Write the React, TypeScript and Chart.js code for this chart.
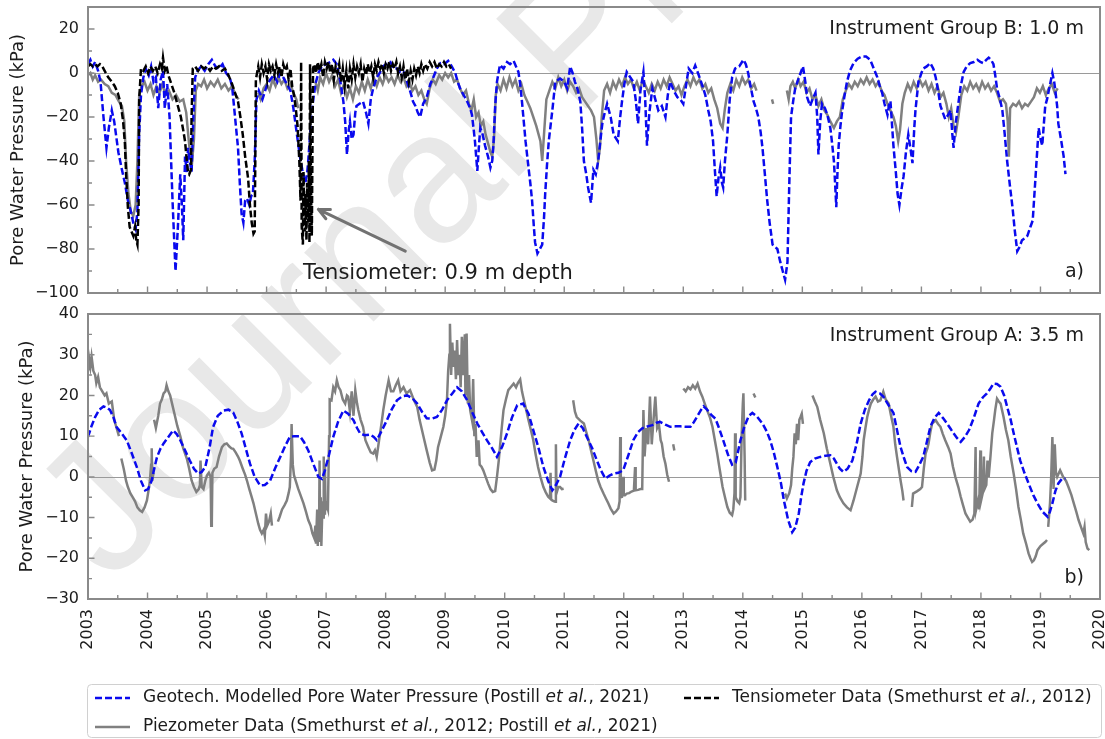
import { useEffect, useRef } from "react";
import { Chart, registerables } from "chart.js";

Chart.register(...registerables);

// ---------------------------------------------------------------------------
// Data: [decimal year, pore water pressure in kPa]; null marks a gap in a record
// ---------------------------------------------------------------------------
type Sample = readonly [number, number] | null;

const YEAR_MIN = 2003;
const YEAR_MAX = 2020;
const yearTicks = [2003, 2004, 2005, 2006, 2007, 2008, 2009, 2010, 2011, 2012, 2013, 2014, 2015, 2016, 2017, 2018, 2019, 2020];
const topYTicks = [-100, -80, -60, -40, -20, 0, 20];
const topYMinor = [-90, -70, -50, -30, -10, 10];
const bottomYTicks = [-30, -20, -10, 0, 10, 20, 30, 40];
const bottomYMinor = [-25, -15, -5, 5, 15, 25, 35];

// Instrument group B (1.0 m) — modelled pore water pressure
const modelB: Sample[] = [
  [2003.0, 4], [2003.04, 6], [2003.08, 3], [2003.12, 5], [2003.17, 1], [2003.21, -4], [2003.26, -20], [2003.31, -34],
  [2003.35, -25], [2003.4, -17], [2003.44, -22], [2003.51, -36], [2003.57, -44], [2003.62, -50], [2003.67, -58], [2003.71, -62],
  [2003.76, -68], [2003.8, -71], [2003.83, -63], [2003.86, -28], [2003.89, -10], [2003.93, -2], [2003.97, 2], [2004.02, -1],
  [2004.06, 3], [2004.1, -4], [2004.14, -2], [2004.18, -16], [2004.22, -3], [2004.26, 1], [2004.29, -16], [2004.33, -5],
  [2004.37, -20], [2004.42, -58], [2004.47, -90], [2004.51, -70], [2004.55, -46], [2004.58, -62], [2004.6, -76], [2004.63, -38],
  [2004.66, -45], [2004.68, -34], [2004.71, -40], [2004.74, -45], [2004.77, -20], [2004.8, -2], [2004.84, 1], [2004.9, 3],
  [2004.96, 1], [2005.02, 4], [2005.08, 6], [2005.14, 3], [2005.2, 2], [2005.26, 4], [2005.32, 0], [2005.38, -2],
  [2005.42, -6], [2005.47, -20], [2005.52, -34], [2005.55, -50], [2005.58, -64], [2005.61, -68], [2005.64, -58], [2005.67, -57],
  [2005.71, -60], [2005.74, -56], [2005.77, -55], [2005.8, -40], [2005.83, -12], [2005.87, -8], [2005.93, -12], [2006.0, -6],
  [2006.06, -3], [2006.12, -1], [2006.18, -4], [2006.23, 0], [2006.28, -2], [2006.34, -5], [2006.4, -8], [2006.45, -16],
  [2006.51, -28], [2006.56, -38], [2006.6, -44], [2006.65, -50], [2006.68, -46], [2006.7, -40], [2006.74, -24], [2006.78, -13],
  [2006.82, -5], [2006.87, 0], [2006.93, 3], [2007.0, 4], [2007.07, 5], [2007.12, 6], [2007.18, 4], [2007.24, -4],
  [2007.29, -13], [2007.32, -22], [2007.35, -37], [2007.38, -26], [2007.4, -22], [2007.43, -30], [2007.46, -28], [2007.49, -18],
  [2007.51, -15], [2007.56, -14], [2007.62, -13], [2007.67, -18], [2007.71, -23], [2007.75, -12], [2007.79, -7], [2007.85, -2],
  [2007.9, 0], [2007.96, 3], [2008.03, 4.5], [2008.08, 5], [2008.13, 2], [2008.19, 2], [2008.25, 0], [2008.3, 0.5],
  [2008.36, -4], [2008.42, -9], [2008.46, -13], [2008.5, -15], [2008.54, -18], [2008.58, -20], [2008.63, -14], [2008.69, -11],
  [2008.75, -5], [2008.8, -2], [2008.86, 2], [2008.92, 4.5], [2008.98, 4], [2009.05, 5.5], [2009.11, 3], [2009.17, 0],
  [2009.21, -4], [2009.25, -7], [2009.31, -10], [2009.37, -13], [2009.42, -16], [2009.45, -19], [2009.48, -26], [2009.5, -31],
  [2009.54, -44.5], [2009.57, -32], [2009.59, -25], [2009.63, -28], [2009.67, -33], [2009.72, -38], [2009.76, -43], [2009.79, -40],
  [2009.81, -33], [2009.84, -15], [2009.87, -4], [2009.92, 3.7], [2009.98, 2], [2010.04, 5], [2010.09, 4], [2010.15, 5.5],
  [2010.19, 3], [2010.23, 0.5], [2010.26, -5], [2010.29, -13], [2010.32, -22], [2010.35, -31], [2010.4, -43], [2010.43, -50],
  [2010.46, -58], [2010.49, -70], [2010.51, -77], [2010.55, -82], [2010.59, -80], [2010.63, -78], [2010.66, -66], [2010.68, -55],
  [2010.71, -42], [2010.74, -31], [2010.77, -24], [2010.8, -17], [2010.85, -4], [2010.93, -2.5], [2011.0, -4], [2011.05, -7],
  [2011.1, 3], [2011.14, 0], [2011.18, -4], [2011.23, -8], [2011.27, -13], [2011.3, -25], [2011.33, -40], [2011.37, -46],
  [2011.4, -52], [2011.45, -59], [2011.49, -44], [2011.53, -46], [2011.57, -40], [2011.61, -30], [2011.64, -23], [2011.68, -18],
  [2011.72, -14], [2011.78, -20], [2011.83, -28], [2011.9, -31], [2011.94, -20], [2011.97, -13], [2012.01, -5], [2012.05, 0.5],
  [2012.11, -2], [2012.16, -4], [2012.2, -12], [2012.24, -23], [2012.28, -8], [2012.33, 0.5], [2012.36, -12], [2012.39, -33],
  [2012.43, -18], [2012.48, -7], [2012.53, -12], [2012.58, -17], [2012.64, -15], [2012.7, -20], [2012.74, -10], [2012.78, -4],
  [2012.84, -8], [2012.9, -11], [2012.95, -12], [2013.0, -14], [2013.05, -5], [2013.09, 2], [2013.15, 0], [2013.2, 3.4],
  [2013.26, -1], [2013.32, -5.7], [2013.37, -10], [2013.42, -17], [2013.46, -22], [2013.5, -31], [2013.53, -44], [2013.56, -56],
  [2013.59, -48], [2013.62, -43], [2013.65, -50], [2013.67, -52], [2013.7, -40], [2013.74, -28], [2013.78, -12], [2013.82, -2],
  [2013.87, 2], [2013.94, 3], [2014.01, 6], [2014.05, 4], [2014.09, 0], [2014.13, -6], [2014.18, -12.8], [2014.22, -16],
  [2014.26, -20], [2014.3, -27], [2014.33, -34], [2014.37, -46], [2014.41, -58], [2014.45, -68], [2014.5, -78], [2014.54, -79],
  [2014.58, -80], [2014.63, -86], [2014.67, -90], [2014.71, -94], [2014.75, -86], [2014.78, -51], [2014.81, -20], [2014.85, -12],
  [2014.88, -7], [2014.93, -3], [2014.97, 0], [2015.01, 3], [2015.05, -4], [2015.08, -11], [2015.13, -15], [2015.17, -12],
  [2015.22, -9], [2015.25, -20], [2015.27, -37], [2015.3, -22], [2015.33, -14], [2015.38, -16], [2015.42, -19], [2015.47, -25],
  [2015.5, -32], [2015.53, -40], [2015.55, -50], [2015.57, -61], [2015.59, -45], [2015.61, -33], [2015.64, -24], [2015.67, -17],
  [2015.71, -10], [2015.75, -4], [2015.8, 1], [2015.86, 4.5], [2015.93, 6.5], [2016.0, 7.5], [2016.07, 7.5], [2016.14, 6],
  [2016.2, 2], [2016.26, -2], [2016.3, -6], [2016.34, -9], [2016.38, -14], [2016.43, -19], [2016.46, -14], [2016.48, -12.8],
  [2016.51, -25], [2016.53, -33], [2016.57, -45], [2016.6, -55], [2016.63, -60], [2016.67, -52], [2016.7, -47], [2016.74, -36],
  [2016.78, -28], [2016.82, -35], [2016.85, -41], [2016.88, -25], [2016.9, -17], [2016.95, -4], [2017.0, 0], [2017.03, 2],
  [2017.09, 3], [2017.15, 4.5], [2017.2, 2], [2017.24, -2], [2017.28, -8], [2017.32, -15], [2017.36, -18], [2017.4, -21],
  [2017.45, -19], [2017.49, -17], [2017.52, -28], [2017.54, -34], [2017.58, -22], [2017.62, -14], [2017.66, -6], [2017.71, 0.5],
  [2017.76, 3], [2017.82, 4.5], [2017.88, 5], [2017.94, 6], [2017.99, 5], [2018.04, 4.5], [2018.09, 6], [2018.13, 7],
  [2018.17, 6], [2018.21, 4], [2018.24, -1], [2018.27, -7], [2018.32, -12], [2018.36, -17], [2018.4, -28], [2018.44, -40],
  [2018.49, -52], [2018.53, -61], [2018.57, -72], [2018.61, -81], [2018.65, -79], [2018.69, -76], [2018.74, -75], [2018.78, -74],
  [2018.83, -70], [2018.87, -67], [2018.92, -46], [2018.97, -25], [2019.0, -30], [2019.03, -33], [2019.06, -22], [2019.08, -15],
  [2019.11, -12], [2019.14, -8], [2019.17, -4], [2019.2, 0], [2019.23, -4], [2019.25, -8], [2019.28, -15], [2019.3, -23],
  [2019.35, -31], [2019.39, -38], [2019.42, -46],
];

// Instrument group B (1.0 m) — piezometer record
const piezoB: Sample[] = [
  [2003.0, -1], [2003.04, 0], [2003.08, -3], [2003.12, -1], [2003.17, -4], [2003.22, -3], [2003.28, -5], [2003.34, -6],
  [2003.4, -9], [2003.46, -10], [2003.52, -13], [2003.57, -15], [2003.61, -22], [2003.64, -40], [2003.68, -55], [2003.72, -63],
  [2003.76, -65], [2003.8, -60], [2003.83, -40], [2003.86, -10], [2003.9, -6], [2003.95, -4], [2004.0, -8], [2004.05, -5],
  [2004.1, -10], [2004.15, -6], [2004.2, -9], [2004.25, -5], [2004.3, -10], [2004.36, -8], [2004.42, -12], [2004.48, -10],
  [2004.54, -13], [2004.6, -12], [2004.65, -18], [2004.69, -30], [2004.72, -38], [2004.75, -40], [2004.78, -30], [2004.81, -8],
  [2004.85, -5], [2004.9, -6], [2004.95, -3], [2005.0, -7], [2005.06, -4], [2005.12, -6], [2005.18, -3], [2005.24, -7],
  [2005.3, -5], [2005.36, -8], [2005.42, -6], [2005.48, -10], [2005.53, -12], null,
  [2005.86, -9], [2005.9, -12], [2005.95, -7], [2006.0, -5], [2006.05, -8], [2006.1, -3], [2006.15, -6], [2006.2, -2],
  [2006.25, -5], [2006.3, -3], [2006.35, -7], [2006.4, -5], [2006.45, -9], [2006.5, -12], [2006.53, -16], null,
  [2006.82, -4], [2006.86, -8], [2006.9, -2], [2006.95, -5], [2007.0, 0], [2007.05, -4], [2007.1, -1], [2007.15, -6],
  [2007.2, -3], [2007.25, -9], [2007.3, -5], [2007.35, -11], [2007.4, -7], [2007.45, -12], [2007.5, -6], [2007.55, -9],
  [2007.6, -4], [2007.65, -8], [2007.7, -3], [2007.75, -7], [2007.8, -2], [2007.85, -6], [2007.9, -2], [2007.95, -5],
  [2008.0, -1], [2008.05, -4], [2008.1, -2], [2008.15, -5], [2008.2, -1], [2008.25, -4], [2008.3, -2], [2008.35, -6],
  [2008.4, -4], [2008.45, -8], [2008.5, -6], [2008.55, -10], [2008.6, -8], [2008.65, -12], [2008.69, -14], [2008.74, -7],
  [2008.79, -3], [2008.84, -5], [2008.9, -1], [2008.95, -3], [2009.0, 0], [2009.05, -2], [2009.1, 0], [2009.15, -4],
  [2009.2, -3], [2009.25, -7], [2009.3, -10], [2009.35, -8], [2009.4, -14], [2009.44, -17], [2009.48, -12], [2009.52, -20],
  [2009.56, -18], [2009.6, -24], [2009.64, -22], [2009.68, -28], [2009.72, -32], [2009.76, -36], [2009.79, -38], [2009.82, -30],
  [2009.85, -10], [2009.88, -5], [2009.93, -8], [2009.98, -3], [2010.03, -7], [2010.08, -2], [2010.13, -6], [2010.18, -3],
  [2010.23, -8], [2010.28, -5], [2010.33, -10], [2010.38, -13], [2010.43, -16], [2010.48, -20], [2010.53, -24], [2010.57, -28],
  [2010.6, -31], [2010.63, -40], [2010.66, -28], [2010.7, -12], [2010.75, -8], [2010.8, -4], [2010.85, -7], [2010.9, -2],
  [2010.95, -6], [2011.0, -3], [2011.05, -8], [2011.1, -4], [2011.15, -6], [2011.2, -9], [2011.25, -7], [2011.3, -11],
  [2011.35, -13], [2011.4, -15], [2011.45, -17], [2011.5, -20], [2011.54, -30], [2011.57, -40], [2011.6, -34], [2011.63, -20],
  [2011.67, -8], [2011.72, -5], [2011.77, -9], [2011.82, -4], [2011.87, -7], [2011.92, -3], [2011.97, -6], [2012.02, -2],
  [2012.07, -5], [2012.12, -3], [2012.17, -7], [2012.22, -4], [2012.27, -8], [2012.32, -3], [2012.37, -6], [2012.42, -9],
  [2012.47, -5], [2012.52, -8], [2012.57, -4], [2012.62, -7], [2012.67, -3], [2012.72, -6], [2012.77, -2], [2012.82, -5],
  [2012.87, -8], [2012.92, -6], [2012.97, -10], [2013.02, -6], [2013.07, -3], [2013.12, -6], [2013.17, -2], [2013.22, -5],
  [2013.27, -3], [2013.32, -7], [2013.37, -5], [2013.42, -9], [2013.47, -7], [2013.52, -12], [2013.57, -16], [2013.62, -23],
  [2013.66, -25], [2013.7, -16], [2013.74, -9], [2013.79, -5], [2013.84, -8], [2013.89, -3], [2013.94, -6], [2013.99, -2],
  [2014.04, -5], [2014.09, -3], [2014.14, -7], [2014.19, -5], [2014.23, -8], null,
  [2014.49, -12], [2014.51, -14], null,
  [2014.74, -8], [2014.77, -12], [2014.8, -6], [2014.84, -4], [2014.88, -7], [2014.93, -3], [2014.97, -6], [2015.02, -4],
  [2015.07, -9], [2015.12, -7], [2015.17, -12], [2015.22, -10], [2015.27, -15], [2015.32, -12], [2015.37, -17], [2015.42, -19],
  [2015.47, -22], [2015.53, -25], [2015.58, -22], [2015.63, -20], [2015.68, -12], [2015.73, -8], [2015.78, -5], [2015.83, -7],
  [2015.88, -4], [2015.93, -6], [2015.98, -3], [2016.03, -5], [2016.08, -2], [2016.13, -5], [2016.18, -3], [2016.23, -6],
  [2016.28, -4], [2016.33, -8], [2016.38, -10], [2016.43, -14], [2016.48, -17], [2016.53, -20], [2016.57, -24], [2016.61, -31],
  [2016.64, -26], [2016.68, -14], [2016.72, -9], [2016.77, -5], [2016.82, -8], [2016.87, -4], [2016.92, -7], [2016.97, -3],
  [2017.02, -6], [2017.07, -4], [2017.12, -8], [2017.17, -5], [2017.22, -9], [2017.27, -6], [2017.32, -11], [2017.37, -9],
  [2017.42, -14], [2017.46, -20], [2017.5, -16], [2017.54, -24], [2017.58, -27], [2017.62, -20], [2017.67, -10], [2017.72, -6],
  [2017.77, -8], [2017.82, -4], [2017.87, -7], [2017.92, -5], [2017.97, -8], [2018.02, -4], [2018.07, -7], [2018.12, -5],
  [2018.17, -8], [2018.22, -6], [2018.27, -9], [2018.32, -13], [2018.37, -12], [2018.42, -14], [2018.45, -22], [2018.47, -38],
  [2018.49, -16], [2018.54, -14], [2018.59, -15], [2018.64, -13], [2018.69, -16], [2018.74, -14], [2018.79, -15], [2018.84, -13],
  [2018.89, -11], [2018.94, -7], [2018.99, -9], [2019.04, -6], [2019.09, -10], [2019.14, -7], [2019.19, -5], [2019.24, -9],
  [2019.29, -7],
];

// Tensiometer record, 0.9 m depth
const tensiometer: Sample[] = [
  [2003.0, 3], [2003.04, 4], [2003.08, 3], [2003.12, 4], [2003.16, 3], [2003.2, 4], [2003.24, 3], [2003.28, 1],
  [2003.34, -2], [2003.4, -4], [2003.45, -6], [2003.5, -9], [2003.55, -14], [2003.59, -22], [2003.62, -32], [2003.64, -46],
  [2003.67, -61], [2003.7, -70], [2003.73, -72], [2003.76, -74], [2003.79, -70], [2003.81, -76], [2003.83, -78], [2003.85, -60],
  [2003.86, -12], [2003.89, 2], [2003.93, 1], [2003.97, 3], [2004.01, 0], [2004.05, 3], [2004.09, 1], [2004.13, 3],
  [2004.17, 0], [2004.21, 4], [2004.24, 2], [2004.26, 7], [2004.29, 1], [2004.32, 3], [2004.35, -1], [2004.4, -5],
  [2004.45, -9], [2004.51, -15], [2004.56, -20], [2004.6, -26], [2004.63, -31], [2004.66, -40], [2004.68, -45], [2004.7, -46],
  [2004.73, -44], [2004.74, -20], [2004.76, 2], [2004.8, 3], [2004.85, 1], [2004.9, 3], [2004.95, 2], [2005.0, 3],
  [2005.05, 1], [2005.1, 3], [2005.15, 2], [2005.2, 3], [2005.25, 1], [2005.3, 2], [2005.36, -1], [2005.42, -5],
  [2005.47, -9], [2005.52, -13], [2005.56, -20], [2005.6, -28], [2005.64, -38], [2005.69, -48], [2005.72, -60], [2005.75, -68],
  [2005.78, -73], [2005.8, -72], [2005.81, -40], [2005.82, -3], [2005.86, 3], [2005.89, -2], [2005.92, 4], [2005.95, 0],
  [2005.98, 3], [2006.01, -3], [2006.04, 4], [2006.07, 1], [2006.1, 3], [2006.13, -1], [2006.16, 4], [2006.19, 0],
  [2006.22, 3], [2006.25, -2], [2006.28, 4], [2006.31, 1], [2006.34, 3], [2006.37, -3], [2006.4, 2], [2006.43, -6],
  [2006.46, -10], [2006.49, -16], [2006.52, -24], [2006.55, -40], [2006.57, -58], [2006.58, 5], [2006.59, -70], [2006.61, -78],
  [2006.62, -45], [2006.64, -72], [2006.65, -55], [2006.67, -76], [2006.68, -50], [2006.7, -68], [2006.71, -40], [2006.72, -77],
  [2006.73, 4], [2006.75, -60], [2006.76, -74], [2006.78, 2], [2006.8, 4], [2006.83, 0], [2006.86, 5], [2006.89, 1],
  [2006.92, 4], [2006.95, -2], [2006.98, 5], [2007.01, 2], [2007.04, 5], [2007.07, 0], [2007.1, 4], [2007.13, -3],
  [2007.16, 3], [2007.19, 0], [2007.22, 4], [2007.25, -4], [2007.28, 2], [2007.31, -6], [2007.34, 1], [2007.37, -7],
  [2007.4, 2], [2007.43, -3], [2007.46, 4], [2007.49, -2], [2007.52, 3], [2007.55, 0], [2007.58, 4], [2007.61, -4],
  [2007.64, 2], [2007.67, -1], [2007.7, 4], [2007.73, 0], [2007.76, 3], [2007.79, -2], [2007.82, 4], [2007.85, 1],
  [2007.88, 5], [2007.91, 2], [2007.94, 4], [2007.97, 0], [2008.0, 4], [2008.03, 2], [2008.06, 5], [2008.09, 1],
  [2008.12, 4], [2008.15, 2], [2008.18, 5], [2008.21, 0], [2008.24, 3], [2008.27, -2], [2008.3, 3], [2008.33, -3],
  [2008.36, 2], [2008.39, -4], [2008.42, 1], [2008.45, -3], [2008.48, 2], [2008.51, -1], [2008.54, 3], [2008.57, 0],
  [2008.6, 4], [2008.63, 1], [2008.66, 4], [2008.7, 2], [2008.74, 5], [2008.78, 3], [2008.82, 5], [2008.86, 2],
  [2008.9, 4], [2008.94, 3], [2008.98, 5], [2009.02, 3], [2009.06, 4], [2009.1, 2],
];

// Instrument group A (3.5 m) — modelled pore water pressure
const modelA: Sample[] = [
  [2003.0, 9.8], [2003.06, 12.5], [2003.12, 14.7], [2003.19, 16.5], [2003.26, 17.3], [2003.32, 17], [2003.37, 16.4], [2003.43, 14.5],
  [2003.48, 12.2], [2003.55, 11], [2003.6, 10], [2003.65, 9], [2003.73, 6], [2003.82, 2.4], [2003.89, -1], [2003.96, -3.3],
  [2004.01, -3], [2004.07, -0.9], [2004.12, 2.5], [2004.16, 4.9], [2004.22, 7], [2004.27, 8.2], [2004.35, 9.8], [2004.43, 11.4],
  [2004.49, 10.5], [2004.55, 9], [2004.63, 6.5], [2004.71, 4], [2004.78, 2], [2004.85, 0.8], [2004.91, 1.2], [2004.97, 2.4],
  [2005.04, 7], [2005.1, 12.2], [2005.18, 15], [2005.28, 16.3], [2005.36, 16.5], [2005.44, 15.8], [2005.51, 13.5], [2005.58, 10.7],
  [2005.65, 7], [2005.72, 3.3], [2005.8, 0], [2005.89, -2.1], [2005.97, -2], [2006.06, -0.9], [2006.14, 2], [2006.23, 4.9],
  [2006.31, 7.5], [2006.39, 9.8], [2006.47, 10], [2006.56, 10], [2006.63, 8.5], [2006.7, 6.5], [2006.79, 3], [2006.87, 0],
  [2006.93, -0.5], [2006.98, 1.6], [2007.05, 5.5], [2007.12, 9.8], [2007.2, 13.5], [2007.29, 16.3], [2007.37, 15.5], [2007.46, 13.9],
  [2007.52, 12], [2007.57, 10.7], [2007.65, 10.2], [2007.74, 10.4], [2007.8, 9.8], [2007.85, 9], [2007.94, 11.5], [2008.02, 13.9],
  [2008.1, 16.5], [2008.19, 18.8], [2008.28, 19.8], [2008.36, 20], [2008.45, 19.3], [2008.53, 18], [2008.61, 16], [2008.69, 14.4],
  [2008.78, 14.3], [2008.86, 14.7], [2008.95, 16.5], [2009.03, 18.8], [2009.12, 20.5], [2009.2, 22], [2009.28, 21], [2009.37, 18.8],
  [2009.45, 16], [2009.54, 13.1], [2009.62, 11], [2009.7, 9], [2009.79, 7], [2009.87, 4.9], [2009.96, 7.5], [2010.04, 10.7],
  [2010.12, 14.5], [2010.21, 17.6], [2010.31, 18], [2010.4, 15.5], [2010.48, 11.5], [2010.57, 7], [2010.65, 2.4], [2010.73, -1],
  [2010.8, -3.3], [2010.86, -2], [2010.93, 0], [2011.01, 4.5], [2011.1, 9], [2011.17, 11.5], [2011.24, 13.1], [2011.31, 12],
  [2011.38, 9.8], [2011.47, 7], [2011.55, 4], [2011.62, 1.5], [2011.69, -0.4], [2011.76, 0.3], [2011.83, 0.8], [2011.91, 1],
  [2011.99, 1.6], [2012.07, 5], [2012.16, 9], [2012.24, 11], [2012.31, 11.9], [2012.4, 12.4], [2012.48, 12.7], [2012.55, 13.3],
  [2012.61, 13.5], [2012.7, 12.8], [2012.78, 12.3], [2012.87, 12.4], [2012.95, 12.4], [2013.04, 12.3], [2013.12, 12.3], [2013.18, 13.5],
  [2013.24, 15], [2013.3, 16.5], [2013.34, 17.3], [2013.4, 16.5], [2013.47, 15.2], [2013.54, 14.3], [2013.6, 12], [2013.67, 9],
  [2013.75, 5.5], [2013.82, 3], [2013.88, 3.5], [2013.96, 9], [2014.03, 12.5], [2014.1, 15], [2014.16, 15.7], [2014.24, 14.8],
  [2014.33, 13.1], [2014.4, 11.2], [2014.46, 9], [2014.52, 6], [2014.58, 2.4], [2014.64, -1.5], [2014.69, -5.8], [2014.76, -10.5],
  [2014.83, -13.6], [2014.88, -12.5], [2014.94, -9], [2014.98, -5], [2015.02, -1.6], [2015.07, 1.5], [2015.13, 3.6], [2015.21, 4.5],
  [2015.3, 4.9], [2015.39, 5.2], [2015.47, 5.3], [2015.53, 4.5], [2015.58, 3.2], [2015.63, 2], [2015.69, 1.2], [2015.76, 2],
  [2015.84, 4], [2015.91, 8], [2015.98, 13.1], [2016.05, 16.5], [2016.12, 18.8], [2016.18, 20.3], [2016.23, 20.9], [2016.3, 20.5],
  [2016.36, 19.7], [2016.44, 17.8], [2016.53, 15.7], [2016.59, 11.5], [2016.65, 7.3], [2016.71, 4.5], [2016.76, 2.4], [2016.83, 1.4],
  [2016.9, 1.2], [2016.96, 2.8], [2017.03, 4.9], [2017.09, 8.5], [2017.15, 12.3], [2017.22, 14.5], [2017.29, 15.7], [2017.36, 14.5],
  [2017.43, 13.1], [2017.49, 11.8], [2017.54, 10.7], [2017.6, 9.5], [2017.66, 8.6], [2017.73, 9.8], [2017.8, 11.5], [2017.88, 14.5],
  [2017.96, 18], [2018.03, 19.5], [2018.1, 20.5], [2018.16, 21.7], [2018.21, 22.9], [2018.27, 22.8], [2018.33, 22.1], [2018.39, 20],
  [2018.44, 17.2], [2018.5, 14], [2018.55, 10.7], [2018.61, 7], [2018.66, 4], [2018.73, 1], [2018.8, -1.6], [2018.88, -4.5],
  [2018.95, -6.5], [2019.03, -8.5], [2019.12, -9.8], [2019.16, -8.5], [2019.2, -6.5], [2019.25, -3.5], [2019.3, -1.6], [2019.36, -0.5],
  [2019.42, -0.4],
];

// Instrument group A (3.5 m) — piezometer record
const piezoA: Sample[] = [
  [2003.0, 26], [2003.02, 29], [2003.04, 27], [2003.06, 29.5], [2003.09, 26], [2003.12, 25], [2003.14, 23], [2003.17, 24.5],
  [2003.2, 22], [2003.24, 21], [2003.28, 20], [2003.31, 20.5], [2003.35, 18], [2003.4, 18.5], [2003.44, 14], [2003.48, 12],
  [2003.52, 10], null,
  [2003.56, 4.5], [2003.6, 2], [2003.64, -1], [2003.67, -2.5], [2003.71, -4], [2003.75, -5], [2003.79, -6], [2003.83, -7.5],
  [2003.87, -8.2], [2003.91, -8.6], [2003.95, -7.5], [2003.99, -5.8], [2004.02, -3], [2004.04, -0.9], [2004.06, 3], [2004.07, 7],
  [2004.08, -1], [2004.1, 1], null,
  [2004.11, 14], [2004.14, 12], [2004.18, 15], [2004.21, 18], [2004.24, 19], [2004.27, 20.5], [2004.3, 21], [2004.32, 22.5],
  [2004.35, 21], [2004.38, 20], [2004.42, 17.5], [2004.46, 15], [2004.5, 12.5], [2004.55, 10], [2004.6, 7], [2004.66, 4.5],
  [2004.7, 2], [2004.74, -0.9], [2004.78, -2.5], [2004.82, -3.7], [2004.86, -3], [2004.88, -2], [2004.89, 4], [2004.91, -2.5],
  [2004.94, -3], [2004.97, -1], [2005.0, 0.4], [2005.03, 1], [2005.06, 0], [2005.07, -12], [2005.08, -11], [2005.09, 1],
  [2005.12, 2], [2005.16, 2.4], [2005.2, 5], [2005.25, 7.3], [2005.29, 8], [2005.33, 8.2], [2005.37, 7.5], [2005.41, 7],
  [2005.44, 6.9], [2005.48, 6], [2005.52, 5], [2005.55, 4], [2005.6, 2], [2005.64, 0.5], [2005.67, -0.9], [2005.71, -3],
  [2005.75, -5], [2005.78, -6.5], [2005.82, -9], [2005.86, -11.5], [2005.89, -13], [2005.92, -13.9], [2005.95, -13], [2005.97, -14.5],
  [2005.99, -9], [2006.01, -12], [2006.04, -11], [2006.07, -9], [2006.09, -12], null,
  [2006.19, -11], [2006.22, -9.8], [2006.26, -8], [2006.3, -7], [2006.34, -5.8], [2006.37, -4], [2006.39, -2.5], [2006.41, 5],
  [2006.42, 13], [2006.44, 3], [2006.46, 0.4], [2006.5, -1.5], [2006.53, -2.9], [2006.57, -4.5], [2006.62, -6.5], [2006.66, -8.5],
  [2006.7, -10.6], [2006.74, -12], [2006.77, -13.9], [2006.8, -15], [2006.82, -12], [2006.83, -16.4], [2006.85, -8], [2006.86, -17],
  [2006.87, -10], [2006.88, -16], [2006.89, 4], [2006.9, -15], [2006.91, -5], [2006.92, -17], [2006.94, -6], [2006.95, -10],
  [2006.96, 5], [2006.97, -9], [2006.98, 3.2], [2006.99, -8], [2007.01, -7], [2007.03, -8], [2007.05, 10], [2007.06, 19],
  [2007.09, 18.8], [2007.12, 22], [2007.15, 21], [2007.18, 23.7], [2007.21, 22], [2007.24, 21.3], [2007.28, 19], [2007.32, 18],
  [2007.35, 20], [2007.37, 19.7], [2007.4, 16], [2007.43, 21], [2007.46, 15], [2007.49, 21.3], [2007.52, 18], [2007.54, 16.4],
  [2007.58, 14], [2007.62, 12.3], [2007.66, 9], [2007.71, 7.3], [2007.75, 6], [2007.79, 5.7], [2007.82, 6.5], [2007.85, 4.9],
  [2007.88, 8], [2007.92, 12], [2007.96, 16.4], [2008.0, 20], [2008.05, 23.7], [2008.09, 21], [2008.13, 21], [2008.17, 22.5],
  [2008.21, 23.7], [2008.25, 21], [2008.3, 22], [2008.35, 20.5], [2008.41, 21.3], [2008.47, 19], [2008.53, 17.2], [2008.57, 14],
  [2008.61, 11.5], [2008.65, 9], [2008.69, 6.5], [2008.74, 3.5], [2008.78, 1.6], [2008.82, 1.8], [2008.85, 4], [2008.88, 7.3],
  [2008.92, 9.5], [2008.97, 12.3], [2009.0, 15], [2009.03, 18.8], [2009.05, 26], [2009.07, 30], [2009.08, 37.6], [2009.1, 25],
  [2009.12, 33], [2009.14, 27], [2009.16, 31], [2009.18, 24], [2009.2, 33.6], [2009.22, 25], [2009.24, 30], [2009.26, 22],
  [2009.28, 34.4], [2009.3, 25], [2009.33, 35], [2009.34, 20], [2009.36, 35.2], [2009.38, 18], [2009.4, 25], [2009.42, 16.4],
  [2009.45, 14], [2009.47, 24], [2009.49, 10], [2009.51, 13], [2009.53, 4.9], [2009.56, 9], [2009.58, 3], [2009.61, 2.5],
  [2009.64, 1.6], [2009.68, 0], [2009.72, -1.6], [2009.76, -3], [2009.8, -3.7], [2009.84, -3.5], [2009.87, 0], [2009.9, 4],
  [2009.92, 7.3], [2009.95, 12], [2009.98, 16.4], [2010.02, 19], [2010.06, 21.3], [2010.1, 22], [2010.15, 22.9], [2010.19, 22],
  [2010.22, 23], [2010.26, 23.9], [2010.29, 21], [2010.31, 19.7], [2010.36, 16.5], [2010.4, 13.9], [2010.44, 11.5], [2010.48, 9],
  [2010.52, 5.5], [2010.56, 2.4], [2010.6, 0], [2010.65, -2.5], [2010.69, -3.8], [2010.73, -4.9], [2010.76, -5.3], [2010.77, 1],
  [2010.78, -5.5], [2010.8, -5.8], [2010.83, -6], [2010.85, -6.1], [2010.86, 8], [2010.87, -4], [2010.9, -2.5], [2010.93, -2.5],
  [2010.96, -3], [2010.99, -2.9], null,
  [2011.15, 18.8], [2011.18, 16], [2011.21, 14.7], [2011.27, 13.8], [2011.33, 13.1], [2011.37, 11], [2011.41, 9], [2011.45, 6.5],
  [2011.49, 4], [2011.53, 1.5], [2011.57, -0.9], [2011.61, -2.5], [2011.66, -4.1], [2011.7, -5.3], [2011.74, -6.5], [2011.78, -7.8],
  [2011.83, -9], [2011.87, -8.5], [2011.91, -7.7], [2011.93, -6], [2011.94, 9.8], [2011.95, -5], [2011.97, -4.9], [2011.99, 0],
  [2012.0, -4.5], [2012.02, -4.5], [2012.05, -4.1], [2012.09, -4], [2012.13, -3.6], [2012.17, -3.4], [2012.19, 2.4], [2012.2, -3.3],
  [2012.24, -3.2], [2012.28, -3], [2012.31, -3], [2012.33, 16.4], [2012.35, 5], [2012.38, 12], [2012.41, 8], [2012.44, 19.7],
  [2012.47, 8], [2012.5, 14], [2012.53, 19.7], [2012.56, 12], [2012.59, 13], [2012.62, 9], [2012.64, 8.2], [2012.67, 5],
  [2012.7, 3.2], [2012.73, 0.5], [2012.76, -1.2], null,
  [2012.83, 8], [2012.85, 6.5], null,
  [2013.0, 21.7], [2013.04, 21], [2013.08, 22], [2013.12, 21.5], [2013.16, 22.5], [2013.2, 21.7], [2013.24, 22.9], [2013.28, 21],
  [2013.32, 19.7], [2013.36, 18], [2013.4, 16.4], [2013.45, 14.5], [2013.49, 12.3], [2013.53, 9], [2013.57, 5.7], [2013.61, 2],
  [2013.66, -2.5], [2013.7, -5], [2013.74, -7.4], [2013.78, -8.8], [2013.82, -9.4], [2013.84, -8], [2013.86, -4], [2013.87, 10.7],
  [2013.88, -5], [2013.91, -6], [2013.94, -6.5], [2013.96, -5], [2013.98, 10], [2014.0, 18], [2014.01, 20.5], [2014.03, 5],
  [2014.04, -5.8], null,
  [2014.18, 20.5], [2014.21, 19.5], null,
  [2014.71, -4.1], [2014.74, -5.3], [2014.78, -4], [2014.81, -2], [2014.83, 2], [2014.85, 4.9], [2014.87, 10.7], [2014.89, 8],
  [2014.91, 13], [2014.93, 9], [2014.95, 14], [2014.97, 14.7], [2014.99, 15.5], [2015.01, 13], null,
  [2015.17, 20], [2015.21, 18.5], [2015.25, 17.2], [2015.3, 14], [2015.36, 10.7], [2015.41, 7], [2015.47, 3.2], [2015.52, 0],
  [2015.58, -3.3], [2015.63, -5], [2015.69, -6.5], [2015.75, -7.5], [2015.81, -8.2], [2015.86, -5.8], [2015.92, -2.5], [2015.98, 0.8],
  [2016.01, 5], [2016.03, 9], [2016.06, 12], [2016.09, 14.7], [2016.12, 16.5], [2016.15, 18], [2016.19, 19], [2016.23, 19.7],
  [2016.27, 18.5], [2016.31, 18.8], [2016.34, 20], [2016.36, 20.9], [2016.4, 19], [2016.45, 18], [2016.49, 15], [2016.53, 12.3],
  [2016.56, 8], [2016.59, 4.9], [2016.62, 2], [2016.65, -0.9], [2016.68, -3.5], [2016.7, -5.8], null,
  [2016.84, -7.4], [2016.86, -4.1], [2016.93, -3.5], [2016.98, -3], [2017.01, -2.5], [2017.04, 2], [2017.07, 5.7], [2017.1, 7],
  [2017.12, 8.2], [2017.15, 11], [2017.18, 13.1], [2017.24, 13.9], [2017.28, 13], [2017.32, 12.3], [2017.36, 10.5], [2017.4, 9],
  [2017.45, 7.3], [2017.49, 5.7], [2017.53, 2.5], [2017.57, 0], [2017.62, -2.5], [2017.66, -4.9], [2017.7, -7], [2017.74, -9],
  [2017.78, -10], [2017.82, -11], [2017.86, -10.5], [2017.89, -9], [2017.91, 7.3], [2017.92, -8], [2017.95, -6], [2017.97, -8],
  [2017.99, 6.5], [2018.0, -6], [2018.03, -4], [2018.05, 5], [2018.06, -3], [2018.09, -2], [2018.11, 4], [2018.13, 0],
  [2018.16, 5], [2018.19, 10.7], [2018.22, 14], [2018.24, 16.4], [2018.27, 19.2], [2018.3, 18.5], [2018.33, 18], [2018.38, 14.7],
  [2018.42, 11.5], [2018.46, 9], [2018.5, 5], [2018.55, 0.8], [2018.59, -3], [2018.63, -7.4], [2018.67, -10.5], [2018.71, -13.9],
  [2018.76, -16.5], [2018.8, -18.8], [2018.83, -20], [2018.86, -20.9], [2018.89, -20.5], [2018.92, -19.5], [2018.95, -18], [2018.97, -17.6],
  [2019.0, -17], [2019.04, -16.5], [2019.08, -16], [2019.11, -15.5], null,
  [2019.13, -12.3], [2019.16, -6.5], [2019.18, 0], [2019.2, 9.8], [2019.22, -3], [2019.24, 8], [2019.26, 1], [2019.28, 0],
  [2019.33, 1.6], [2019.38, 0], [2019.43, -1], [2019.47, -2.5], [2019.52, -4.5], [2019.56, -6.5], [2019.6, -8.5], [2019.64, -10.6],
  [2019.68, -12.3], [2019.72, -13.9], [2019.74, -12.3], [2019.76, -16], [2019.79, -17.6], [2019.82, -18],
];

// Annotation in panel a): text anchor and arrow (data coordinates)
const tensioLabelAt = [2006.61, -93.6];
const tensioArrowFrom = [2008.33, -81];
const tensioArrowTo = [2006.87, -62];

// ---------------------------------------------------------------------------
// Styling
// ---------------------------------------------------------------------------
const FONT = '"DejaVu Sans", "Noto Sans", sans-serif';
const TEXT = "#1c1c1c";
const FRAME = "#8a8a8a";
const BLUE = "#0a0aee";
const GREY = "#808080";
const BLACK = "#000000";
const DASH = [7, 3];
const LINE_W = 2.5;
const W = 1105;
const TOP_H = 300;
const BOTTOM_TOP = 300;
const BOTTOM_H = 439;

function toPoints(samples: Sample[]) {
  const out: { x: number; y: number | null }[] = [];
  let lastX = YEAR_MIN;
  for (const s of samples) {
    if (s === null) {
      out.push({ x: lastX + 0.001, y: null });
    } else {
      out.push({ x: s[0], y: s[1] });
      lastX = s[0];
    }
  }
  return out;
}

const fmtY = (v: number) => (v < 0 ? "\u2212" + Math.abs(v) : String(v));

function lineSet(label: string, samples: Sample[], color: string, dashed: boolean) {
  return {
    label,
    data: toPoints(samples),
    borderColor: color,
    backgroundColor: color,
    borderWidth: LINE_W,
    borderDash: dashed ? DASH : [],
    pointRadius: 0,
    pointHoverRadius: 0,
    fill: false,
    tension: 0,
    spanGaps: false,
  };
}

type PanelOpts = {
  yMajor: number[];
  yMinor: number[];
  titleX: number;
  cornerTop: string;
  cornerBottom: string;
  annotate?: boolean;
  legend?: boolean;
};

function panelPlugin(o: PanelOpts) {
  return {
    id: "panelDecor",
    beforeDatasetsDraw(chart: any) {
      const { ctx, chartArea: a, scales } = chart;
      const y0 = Math.round(scales.y.getPixelForValue(0)) + 0.5;
      ctx.save();
      ctx.strokeStyle = "#9a9a9a";
      ctx.lineWidth = 1;
      ctx.beginPath();
      ctx.moveTo(a.left, y0);
      ctx.lineTo(a.right, y0);
      ctx.stroke();
      ctx.restore();
    },
    afterDatasetsDraw(chart: any) {
      const { ctx, chartArea: a, scales } = chart;
      const xs = scales.x;
      const ys = scales.y;
      ctx.save();
      // inward tick marks
      ctx.strokeStyle = FRAME;
      ctx.lineWidth = 1.4;
      ctx.beginPath();
      const halfYears = yearTicks.slice(0, -1).map((y) => y + 0.5);
      for (const v of yearTicks) {
        const px = xs.getPixelForValue(v);
        ctx.moveTo(px, a.bottom);
        ctx.lineTo(px, a.bottom - 6.5);
      }
      for (const v of halfYears) {
        const px = xs.getPixelForValue(v);
        ctx.moveTo(px, a.bottom);
        ctx.lineTo(px, a.bottom - 4);
      }
      for (const v of o.yMajor) {
        const py = ys.getPixelForValue(v);
        ctx.moveTo(a.left, py);
        ctx.lineTo(a.left + 6.5, py);
      }
      for (const v of o.yMinor) {
        const py = ys.getPixelForValue(v);
        ctx.moveTo(a.left, py);
        ctx.lineTo(a.left + 4, py);
      }
      ctx.stroke();
      // frame
      ctx.lineWidth = 2;
      ctx.strokeRect(a.left, a.top, a.right - a.left, a.bottom - a.top);

      // y axis title
      ctx.fillStyle = TEXT;
      ctx.font = `18px ${FONT}`;
      ctx.textAlign = "center";
      ctx.textBaseline = "middle";
      ctx.save();
      ctx.translate(o.titleX, (a.top + a.bottom) / 2);
      ctx.rotate(-Math.PI / 2);
      ctx.fillText("Pore Water Pressure (kPa)", 0, 0);
      ctx.restore();

      // corner labels
      ctx.font = `19px ${FONT}`;
      ctx.textAlign = "right";
      ctx.textBaseline = "alphabetic";
      ctx.fillText(o.cornerTop, a.right - 16, a.top + 27);
      ctx.fillText(o.cornerBottom, a.right - 16, a.bottom - 16);

      if (o.annotate) {
        const tx = xs.getPixelForValue(tensioArrowFrom[0]);
        const ty = ys.getPixelForValue(tensioArrowFrom[1]);
        const hx = xs.getPixelForValue(tensioArrowTo[0]);
        const hy = ys.getPixelForValue(tensioArrowTo[1]);
        ctx.strokeStyle = "#727272";
        ctx.lineWidth = 3;
        ctx.lineCap = "round";
        ctx.beginPath();
        ctx.moveTo(tx, ty);
        ctx.lineTo(hx, hy);
        const ang = Math.atan2(ty - hy, tx - hx);
        const len = 12;
        for (const d of [-0.45, 0.45]) {
          ctx.moveTo(hx, hy);
          ctx.lineTo(hx + len * Math.cos(ang + d), hy + len * Math.sin(ang + d));
        }
        ctx.stroke();
        ctx.fillStyle = TEXT;
        ctx.font = `21px ${FONT}`;
        ctx.textAlign = "left";
        ctx.textBaseline = "alphabetic";
        ctx.fillText(
          "Tensiometer: 0.9 m depth",
          xs.getPixelForValue(tensioLabelAt[0]),
          ys.getPixelForValue(tensioLabelAt[1])
        );
      }
      ctx.restore();
    },
    afterDraw(chart: any) {
      if (!o.legend) return;
      drawLegend(chart.ctx);
    },
  };
}

// legend entries: each label is split into upright / italic runs
type Run = [string, boolean];
const legendEntries: { runs: Run[]; color: string; dashed: boolean; x: number; row: number }[] = [
  { runs: [["Geotech. Modelled Pore Water Pressure (Postill ", false], ["et al.", true], [", 2021)", false]], color: BLUE, dashed: true, x: 95, row: 0 },
  { runs: [["Piezometer Data (Smethurst ", false], ["et al.", true], [", 2012; Postill ", false], ["et al.", true], [", 2021)", false]], color: GREY, dashed: false, x: 95, row: 1 },
  { runs: [["Tensiometer Data (Smethurst ", false], ["et al.", true], [", 2012)", false]], color: BLACK, dashed: true, x: 684, row: 0 },
];

function drawLegend(ctx: CanvasRenderingContext2D) {
  const off = BOTTOM_TOP;
  const boxL = 87.5;
  const boxR = 1101.5;
  const boxT = 684.5 - off;
  const boxB = 737.5 - off;
  const rows = [698 - off, 727 - off];
  ctx.save();
  ctx.fillStyle = "rgba(255,255,255,0.8)";
  ctx.strokeStyle = "#d0d0d0";
  ctx.lineWidth = 1;
  ctx.beginPath();
  const r = 4;
  ctx.moveTo(boxL + r, boxT);
  ctx.lineTo(boxR - r, boxT);
  ctx.arcTo(boxR, boxT, boxR, boxT + r, r);
  ctx.lineTo(boxR, boxB - r);
  ctx.arcTo(boxR, boxB, boxR - r, boxB, r);
  ctx.lineTo(boxL + r, boxB);
  ctx.arcTo(boxL, boxB, boxL, boxB - r, r);
  ctx.lineTo(boxL, boxT + r);
  ctx.arcTo(boxL, boxT, boxL + r, boxT, r);
  ctx.closePath();
  ctx.fill();
  ctx.stroke();

  for (const e of legendEntries) {
    const y = rows[e.row];
    ctx.strokeStyle = e.color;
    ctx.lineWidth = LINE_W;
    ctx.setLineDash(e.dashed ? DASH : []);
    ctx.beginPath();
    ctx.moveTo(e.x, y);
    ctx.lineTo(e.x + 35, y);
    ctx.stroke();
    ctx.setLineDash([]);
    let tx = e.x + 48;
    ctx.fillStyle = TEXT;
    ctx.textAlign = "left";
    ctx.textBaseline = "middle";
    for (const [s, it] of e.runs) {
      ctx.font = `${it ? "italic " : ""}17px ${FONT}`;
      ctx.fillText(s, tx, y);
      tx += ctx.measureText(s).width;
    }
  }
  ctx.restore();
}

function yAxis(min: number, max: number, labels: number[]) {
  return {
    type: "linear",
    min,
    max,
    afterBuildTicks: (s: any) => {
      s.ticks = labels.map((v) => ({ value: v }));
    },
    afterFit: (s: any) => {
      s.width = 88;
      s.paddingTop = 0;
      s.paddingBottom = 0;
    },
    grid: { display: false, drawTicks: false },
    border: { display: false },
    ticks: {
      padding: 9,
      color: TEXT,
      font: { family: FONT, size: 16 },
      callback: (v: number) => fmtY(v),
    },
  };
}

function topConfig(): any {
  return {
    type: "line",
    data: {
      datasets: [
        lineSet("Tensiometer Data", tensiometer, BLACK, true),
        lineSet("Geotech. Modelled Pore Water Pressure", modelB, BLUE, true),
        lineSet("Piezometer Data", piezoB, GREY, false),
      ],
    },
    options: {
      responsive: false,
      animation: false,
      events: [],
      layout: { padding: { left: 0, right: W - 1100, top: 7, bottom: 7 } },
      plugins: { legend: { display: false }, tooltip: { enabled: false } },
      scales: {
        x: { type: "linear", min: YEAR_MIN, max: YEAR_MAX, display: false },
        y: yAxis(-100, 30, topYTicks),
      },
    },
    plugins: [
      panelPlugin({
        yMajor: topYTicks,
        yMinor: topYMinor,
        titleX: 18.5,
        cornerTop: "Instrument Group B: 1.0 m",
        cornerBottom: "a)",
        annotate: true,
      }),
    ],
  };
}

function bottomConfig(): any {
  return {
    type: "line",
    data: {
      datasets: [
        lineSet("Geotech. Modelled Pore Water Pressure", modelA, BLUE, true),
        lineSet("Piezometer Data", piezoA, GREY, false),
      ],
    },
    options: {
      responsive: false,
      animation: false,
      events: [],
      layout: { padding: { left: 0, right: W - 1100, top: 314 - BOTTOM_TOP, bottom: 0 } },
      plugins: { legend: { display: false }, tooltip: { enabled: false } },
      scales: {
        x: {
          type: "linear",
          min: YEAR_MIN,
          max: YEAR_MAX,
          afterBuildTicks: (s: any) => {
            s.ticks = yearTicks.map((v) => ({ value: v }));
          },
          afterFit: (s: any) => {
            s.height = BOTTOM_TOP + BOTTOM_H - 599;
            s.paddingLeft = 0;
            s.paddingRight = 0;
          },
          grid: { display: false, drawTicks: false },
          border: { display: false },
          ticks: {
            autoSkip: false,
            minRotation: 90,
            maxRotation: 90,
            padding: 10,
            color: TEXT,
            font: { family: FONT, size: 16 },
            callback: (v: number) => String(v),
          },
        },
        y: yAxis(-30, 40, bottomYTicks),
      },
    },
    plugins: [
      panelPlugin({
        yMajor: bottomYTicks,
        yMinor: bottomYMinor,
        titleX: 27,
        cornerTop: "Instrument Group A: 3.5 m",
        cornerBottom: "b)",
        legend: true,
      }),
    ],
  };
}

// faint diagonal "Journal Pre-proof" stamp behind the figure
const STAMP_TEXT = "Journal Pre-proof";
const STAMP_ORIGIN = [110, 585];
const STAMP_ANGLE = 45;
const STAMP_SIZE = 185;

function drawStamp(canvas: HTMLCanvasElement) {
  const ctx = canvas.getContext("2d");
  if (!ctx) return;
  ctx.clearRect(0, 0, canvas.width, canvas.height);
  ctx.save();
  ctx.translate(STAMP_ORIGIN[0], STAMP_ORIGIN[1]);
  ctx.rotate((-STAMP_ANGLE * Math.PI) / 180);
  ctx.font = `${STAMP_SIZE}px "Liberation Sans", Arial, sans-serif`;
  ctx.fillStyle = "#e8e8e8";
  ctx.textBaseline = "alphabetic";
  ctx.fillText(STAMP_TEXT, 0, 0);
  ctx.restore();
}

export default function App() {
  const stampRef = useRef<HTMLCanvasElement | null>(null);
  const topRef = useRef<HTMLCanvasElement | null>(null);
  const bottomRef = useRef<HTMLCanvasElement | null>(null);

  useEffect(() => {
    if (!topRef.current || !bottomRef.current || !stampRef.current) return;
    drawStamp(stampRef.current);
    const top = new Chart(topRef.current, topConfig());
    const bottom = new Chart(bottomRef.current, bottomConfig());
    return () => {
      top.destroy();
      bottom.destroy();
    };
  }, []);

  const abs = (top: number, h: number): any => ({
    position: "absolute",
    left: 0,
    top,
    width: W,
    height: h,
    display: "block",
  });

  return (
    <div style={{ position: "absolute", left: 0, top: 0, width: W, height: 739, background: "#fff", overflow: "hidden" }}>
      <canvas ref={stampRef} width={W} height={739} style={abs(0, 739)} />
      <canvas ref={topRef} width={W} height={TOP_H} style={abs(0, TOP_H)} />
      <canvas ref={bottomRef} width={W} height={BOTTOM_H} style={abs(BOTTOM_TOP, BOTTOM_H)} />
    </div>
  );
}
